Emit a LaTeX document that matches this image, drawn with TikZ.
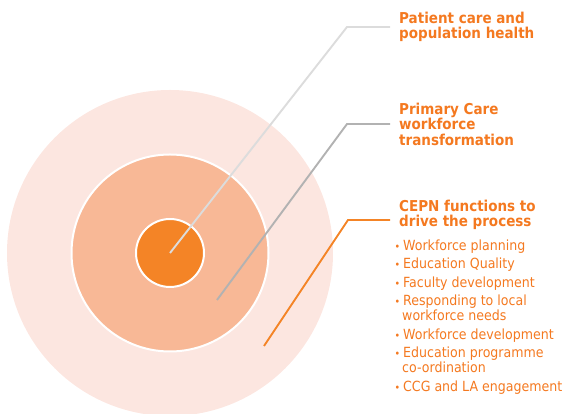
\documentclass[tikz,border=0pt]{standalone}
\usepackage{fontspec}
\setmainfont{DejaVu Sans Condensed}
\definecolor{cepnorange}{RGB}{244,121,32}
\definecolor{coreorange}{RGB}{244,132,38}
\definecolor{midpeach}{RGB}{248,184,150}
\definecolor{outerblush}{RGB}{252,230,224}
\definecolor{leadlight}{RGB}{220,220,220}
\definecolor{leadgrey}{RGB}{178,178,178}
\newcommand{\cepnbullet}{\makebox[8.5pt][l]{\fontsize{10.5}{10.5}\selectfont\textbullet}}
\tikzset{
  ring/.style={circle, inner sep=0pt, draw=white, line width=2pt},
  lead/.style={line width=1.9pt},
  heading/.style={anchor=west, inner sep=0pt, align=left, text=cepnorange,
    font=\bfseries\fontsize{15}{15.5}\selectfont},
  itemlist/.style={anchor=north west, inner sep=0pt, align=left, text=cepnorange,
    font=\fontsize{14}{15}\selectfont}
}

\begin{document}
\begin{tikzpicture}[x=1pt,y=1pt]
	%%%%% START %%%%%
	\useasboundingbox (0,0) rectangle (563,414);
	
	\node[circle, inner sep=0pt, fill=outerblush, minimum size=326pt] (outer) at (170,161) {};
	\node[ring, fill=midpeach, minimum size=197pt] (middle) at (170,161) {};
	\node[ring, fill=coreorange, minimum size=68pt] (inner) at (170,161) {};
	
	\coordinate (middle tip) at (217,114);
	\coordinate (outer tip) at (264,68);
	
	\node[heading] (patient) at (399,387) {Patient care and\\population health};
	\node[heading] (primary) at (399,290) {Primary Care\\workforce\\transformation};
	\node[heading] (cepn) at (399,199) {CEPN functions to\\drive the process};
	
	\node[itemlist] (functions) at (394.5,174.6) {%
		\cepnbullet Workforce planning\\[3.5pt]
		\cepnbullet Education Quality\\[3.5pt]
		\cepnbullet Faculty development\\[3.5pt]
		\cepnbullet Responding to local\\
		\hspace*{7.5pt}workforce needs\\[3.5pt]
		\cepnbullet Workforce development\\[3.5pt]
		\cepnbullet Education programme\\
		\hspace*{7.5pt}co-ordination\\[3.5pt]
		\cepnbullet CCG and LA engagement};
	
	\draw[lead, color=leadlight] ([xshift=-9pt]patient.west) -- ++(-43,0) -- (inner.center);
	\draw[lead, color=leadgrey] ([xshift=-9pt]primary.west) -- ++(-43,0) -- (middle tip);
	\draw[lead, color=coreorange] ([xshift=-9pt,yshift=-5pt]cepn.west) -- ++(-42,0) -- (outer tip);
	
	%%%%% END %%%%%
\end{tikzpicture}
\end{document}
